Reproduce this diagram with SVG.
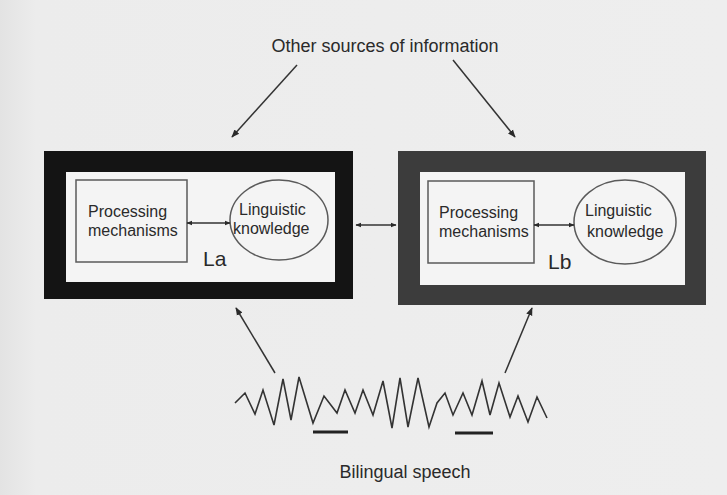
<svg xmlns="http://www.w3.org/2000/svg" width="727" height="495" viewBox="0 0 727 495">
<defs>
<linearGradient id="bg" x1="0" y1="0" x2="1" y2="0">
<stop offset="0" stop-color="#e3e3e3"/>
<stop offset="0.05" stop-color="#ececec"/>
<stop offset="1" stop-color="#eeeeee"/>
</linearGradient>
<marker id="ah" viewBox="0 0 10 10" refX="9" refY="5" markerWidth="8" markerHeight="8" orient="auto-start-reverse" markerUnits="userSpaceOnUse">
<path d="M0,1 L10,5 L0,9 z" fill="#2a2a2a"/>
</marker>
<marker id="ahs" viewBox="0 0 10 10" refX="9" refY="5" markerWidth="6" markerHeight="6" orient="auto-start-reverse" markerUnits="userSpaceOnUse">
<path d="M0,1 L10,5 L0,9 z" fill="#2a2a2a"/>
</marker>
</defs>
<style>
text{font-family:"Liberation Sans",Arial,sans-serif;fill:#2a2a2a}
.lbl{font-size:16px}
.big{font-size:18px}
.lang{font-size:21px}
.proc{fill:none;stroke:#5a5a5a;stroke-width:1.5}
.conn{stroke:#333;stroke-width:1.5;fill:none}
</style>
<rect x="0" y="0" width="727" height="495" fill="url(#bg)"/>
<g id="title"><text class="big" x="385" y="52" text-anchor="middle">Other sources of information</text></g>
<g id="La">
<rect x="44" y="151" width="309" height="148" fill="#141414"/>
<rect x="66" y="172" width="269" height="110" fill="#f4f4f4"/>
<g id="La-proc"><rect class="proc" x="76" y="180" width="111" height="82"/>
<text class="lbl" x="88" y="217">Processing</text>
<text class="lbl" x="88" y="236">mechanisms</text></g>
<g id="La-ling"><ellipse class="proc" cx="279" cy="220" rx="49" ry="40"/>
<text class="lbl" x="239" y="215">Linguistic</text>
<text class="lbl" x="233" y="234">knowledge</text></g>
<text class="lang" x="203" y="266">La</text>
</g>
<g id="Lb">
<rect x="398" y="151" width="308" height="154" fill="#3c3c3c"/>
<rect x="420" y="172" width="265" height="113" fill="#f4f4f4"/>
<g id="Lb-proc"><rect class="proc" x="428" y="181" width="106" height="82"/>
<text class="lbl" x="439" y="218">Processing</text>
<text class="lbl" x="439" y="237">mechanisms</text></g>
<g id="Lb-ling"><ellipse class="proc" cx="625" cy="222" rx="51" ry="42"/>
<text class="lbl" x="585" y="216">Linguistic</text>
<text class="lbl" x="587" y="237">knowledge</text></g>
<text class="lang" x="548" y="269">Lb</text>
</g>
<g id="speech">
<polyline fill="none" stroke="#333" stroke-width="1.6" stroke-linejoin="miter" points="235,403 245,393 255,414 263,390 274,425 283,379 291,420 299,377 313,423 324,396 337,413 345,390 355,413 363,390 373,415 383,381 392,428 400,378 408,427 418,378 429,427 437,403 445,393 453,415 463,393 472,415 482,381 490,415 499,383 510,417 518,396 528,422 537,397 547,418"/>
<line x1="313" y1="432" x2="348" y2="432" stroke="#222" stroke-width="3"/>
<line x1="455" y1="433" x2="493" y2="433" stroke="#222" stroke-width="3"/>
<text class="big" x="405" y="478" text-anchor="middle">Bilingual speech</text>
</g>
<g id="connectors">
<line class="conn" x1="297" y1="65" x2="232" y2="137" marker-end="url(#ah)"/>
<line class="conn" x1="453" y1="60" x2="515" y2="137" marker-end="url(#ah)"/>
<line class="conn" x1="275" y1="373" x2="236" y2="308" marker-end="url(#ah)"/>
<line class="conn" x1="505" y1="373" x2="532" y2="308" marker-end="url(#ah)"/>
<line class="conn" x1="187" y1="223" x2="230" y2="223" marker-start="url(#ahs)" marker-end="url(#ahs)"/>
<line class="conn" x1="534" y1="225" x2="574" y2="225" marker-start="url(#ahs)" marker-end="url(#ahs)"/>
<line class="conn" x1="356" y1="225" x2="396" y2="225" marker-start="url(#ahs)" marker-end="url(#ahs)"/>
</g>
</svg>
